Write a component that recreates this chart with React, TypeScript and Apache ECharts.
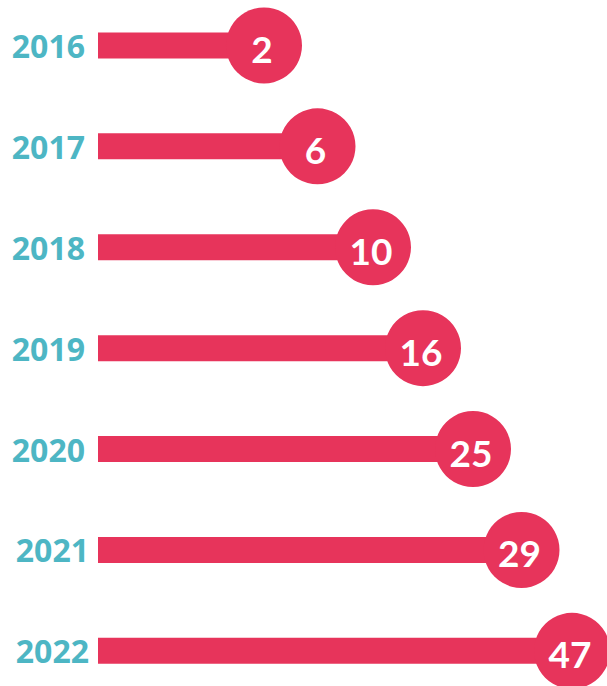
import React, { useEffect, useRef } from "react";
import * as echarts from "echarts";

// Years (categories), top to bottom
const years = ["2016", "2017", "2018", "2019", "2020", "2021", "2022"];
// Values printed in the circles
const values = [2, 6, 10, 16, 25, 29, 47];
// Drawn bar lengths as read off the (not-to-scale) infographic, on a 0–100 axis
const barLengths = [33.2, 43.9, 55, 65, 75, 84.7, 94.8];

const BAR_COLOR = "#E7345B";
const YEAR_COLOR = "#4DB6C4";

const yearStyle = {
  color: YEAR_COLOR,
  fontSize: 32,
  fontWeight: "bold",
  fontFamily: "Open Sans",
};

export default function App() {
  const ref = useRef<HTMLDivElement>(null);

  useEffect(() => {
    if (!ref.current) return;
    const chart = echarts.init(ref.current, undefined, { renderer: "svg" });
    chart.setOption({
      animation: false,
      backgroundColor: "#ffffff",
      grid: { left: 98, right: 9, top: 15, bottom: 4.7, containLabel: false },
      xAxis: {
        type: "value",
        min: 0,
        max: 100,
        show: false,
      },
      yAxis: {
        type: "category",
        data: years,
        inverse: true,
        axisLine: { show: false },
        axisTick: { show: false },
        splitLine: { show: false },
        axisLabel: {
          margin: 9,
          ...yearStyle,
          formatter: (v: string, i: number) => (i >= 5 ? `{b|${v}}` : `{a|${v}}`),
          rich: {
            a: { ...yearStyle, padding: [0, 4, 0, 0] },
            b: { ...yearStyle, padding: [0, 0, 0, 0] },
          },
        },
      },
      series: [
        {
          type: "bar",
          data: barLengths,
          barWidth: 26,
          itemStyle: { color: BAR_COLOR },
          z: 2,
        },
        {
          type: "scatter",
          data: barLengths.map((v, i) => [v, years[i]]),
          symbol: "circle",
          symbolSize: 76,
          clip: false,
          itemStyle: { color: BAR_COLOR, opacity: 1 },
          z: 3,
          label: {
            show: true,
            position: "inside",
            offset: [-2, 3],
            color: "#ffffff",
            fontSize: 37,
            fontWeight: "bold",
            fontFamily: "Lato",
            formatter: (p: any) => String(values[p.dataIndex]),
          },
        },
      ],
    });
    return () => chart.dispose();
  }, []);

  return (
    <div
      ref={ref}
      style={{ position: "fixed", left: 0, top: -20, width: 607, height: 726 }}
    />
  );
}
